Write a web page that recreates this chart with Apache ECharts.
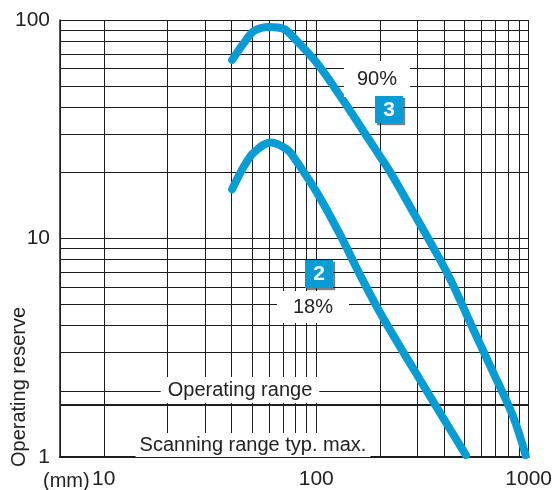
<!DOCTYPE html>
<html><head><meta charset="utf-8">
<script src="https://cdn.jsdelivr.net/npm/echarts@6/dist/echarts.min.js"></script>
<style>html,body{margin:0;padding:0;background:#fff}#c{width:555px;height:490px}</style>
</head><body><div id="c"></div>
<script>
// ---- data ----
const xTickLabels = [10, 100, 1000];
const yTickLabels = [1, 10, 100];
const xMinorGrid = [20, 30, 40, 50, 60, 70, 80, 90, 200, 300, 400, 500, 600, 700, 800, 900];
const yMinorGrid = [2, 3, 4, 5, 6, 7, 8, 9, 20, 30, 40, 50, 60, 70, 80, 90];
const operatingRangeLevel = 1.73;

const curve90X = [40.2, 45.7, 51.0, 59.9, 70.4, 78.5, 100.5, 130.2, 185.9, 223.3, 286.2, 343.9, 426.6, 546.7, 678.3, 841.4, 968];
const curve90Y = [65.7, 78.6, 89.1, 92.9, 91.0, 82.8, 63.7, 44.6, 26.4, 20.1, 13.2, 9.64, 6.54, 3.87, 2.46, 1.55, 1.02];

const curve18X = [40.2, 45.7, 51.0, 61.2, 72.8, 78.5, 100.5, 130.2, 161.6, 207.1, 286.2, 383, 506.8];
const curve18Y = [16.8, 21.4, 24.8, 27.5, 25.6, 23.5, 16.3, 10.3, 6.75, 4.30, 2.54, 1.59, 1.02];

const FONT = '"Liberation Sans", Arial, sans-serif';
const TXT = '#222';
const BLUE = '#089cd4';
const GRID = '#1e1e1e';

const zip = (xs, ys) => xs.map((x, i) => [x, ys[i]]);

const chart = echarts.init(document.getElementById('c'), null, {renderer: 'canvas'});

chart.setOption({
  animation: false,
  backgroundColor: '#fff',
  grid: {left: 60, right: 24, top: 20, bottom: 31, containLabel: false},
  xAxis: {
    type: 'log', logBase: 10, min: 6.22, max: 1000,
    axisLine: {show: true, lineStyle: {color: GRID, width: 2.2}},
    axisTick: {show: false},
    axisLabel: {
      showMinLabel: false, fontSize: 21, color: TXT, fontFamily: FONT, margin: 12,
      formatter: v => (xTickLabels.some(t => Math.abs(t - v) / t < 1e-6) ? String(Math.round(v)) : '')
    },
    splitLine: {show: true, lineStyle: {color: GRID, width: 1}}
  },
  yAxis: {
    type: 'log', logBase: 10, min: 1, max: 100,
    axisLine: {show: true, lineStyle: {color: GRID, width: 1.5}},
    axisTick: {show: false},
    axisLabel: {
      fontSize: 21, color: TXT, fontFamily: FONT, margin: 10,
      formatter: v => (yTickLabels.some(t => Math.abs(t - v) / t < 1e-6) ? String(Math.round(v)) : '')
    },
    splitLine: {show: true, lineStyle: {color: GRID, width: 1}}
  },
  series: [
    {
      name: 'grid', type: 'line', data: [], z: 1, silent: true,
      markLine: {
        silent: true, symbol: ['none', 'none'], animation: false,
        label: {show: false},
        lineStyle: {color: GRID, width: 1, type: 'solid'},
        data: [
          ...xMinorGrid.map(v => ({xAxis: v})),
          ...yMinorGrid.map(v => ({yAxis: v})),
          {yAxis: operatingRangeLevel, lineStyle: {color: GRID, width: 2.2, type: 'solid'}}
        ]
      }
    },
    {
      name: '90%', type: 'line', z: 5, smooth: 0.35, showSymbol: false,
      lineStyle: {color: BLUE, width: 8, cap: 'round', join: 'round'},
      data: zip(curve90X, curve90Y)
    },
    {
      name: '18%', type: 'line', z: 5, smooth: 0.35, showSymbol: false,
      lineStyle: {color: BLUE, width: 8, cap: 'round', join: 'round'},
      data: zip(curve18X, curve18Y)
    }
  ],
  graphic: [
    {type: 'text', z: 100, x: 377, y: 79,
      style: {text: '90%', font: '20px ' + FONT, fill: TXT, align: 'center', verticalAlign: 'middle',
        backgroundColor: '#fff', padding: [8, 13]}},
    {type: 'text', z: 100, x: 313, y: 307,
      style: {text: '18%', font: '20px ' + FONT, fill: TXT, align: 'center', verticalAlign: 'middle',
        backgroundColor: '#fff', padding: [6, 16]}},
    {type: 'text', z: 100, x: 240, y: 390,
      style: {text: 'Operating range', font: '20px ' + FONT, fill: TXT, align: 'center', verticalAlign: 'middle',
        backgroundColor: '#fff', padding: [3, 7]}},
    {type: 'text', z: 100, x: 253, y: 445,
      style: {text: 'Scanning range typ. max.', font: '20px ' + FONT, fill: TXT, align: 'center', verticalAlign: 'middle',
        backgroundColor: '#fff', padding: [2, 4]}},
    {type: 'rect', z: 101, shape: {x: 375, y: 96, width: 28, height: 27},
      style: {fill: BLUE, shadowColor: 'rgba(0,0,0,0.5)', shadowOffsetX: 2, shadowOffsetY: 2, shadowBlur: 1}},
    {type: 'text', z: 102, x: 389, y: 110,
      style: {text: '3', font: 'bold 21px ' + FONT, fill: '#fff', align: 'center', verticalAlign: 'middle'}},
    {type: 'rect', z: 101, shape: {x: 305, y: 260, width: 28, height: 28},
      style: {fill: BLUE, shadowColor: 'rgba(0,0,0,0.5)', shadowOffsetX: 2, shadowOffsetY: 2, shadowBlur: 1}},
    {type: 'text', z: 102, x: 319, y: 274,
      style: {text: '2', font: 'bold 21px ' + FONT, fill: '#fff', align: 'center', verticalAlign: 'middle'}},
    {type: 'text', z: 100, x: 19, y: 387, rotation: Math.PI / 2,
      style: {text: 'Operating reserve', font: '20px ' + FONT, fill: TXT, align: 'center', verticalAlign: 'middle'}},
    {type: 'text', z: 100, x: 43, y: 481,
      style: {text: '(mm)', font: '20px ' + FONT, fill: TXT, align: 'left', verticalAlign: 'middle'}}
  ]
});
</script>
</body></html>
